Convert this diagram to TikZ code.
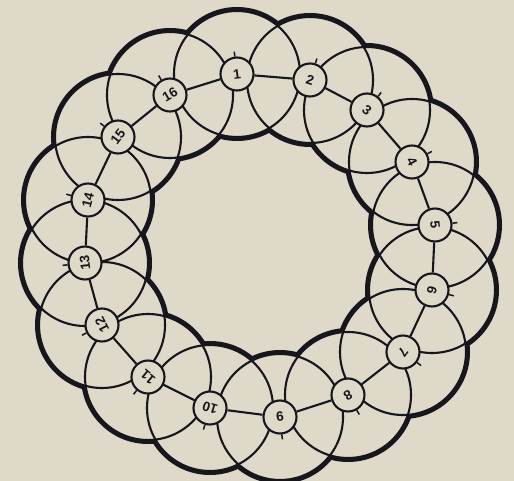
\documentclass[tikz,border=0pt]{standalone}
\usepackage{fontspec}
\setmainfont{Liberation Sans}
\definecolor{paper}{RGB}{222,217,201}
\definecolor{ink}{RGB}{22,22,28}
\begin{document}
\begin{tikzpicture}[x=1pt,y=-1pt,
  thinline/.style={line width=2.1pt, draw=ink},
  boldrim/.style={line width=8pt, draw=ink},
  ringnode/.style={circle, draw=ink, line width=2.1pt, fill=paper, minimum size=33pt, inner sep=0pt, text=ink, font=\fontsize{13.5}{13.5}\selectfont\bfseries},
  tickmark/.style={line width=1.5pt, draw=ink}]
\fill[paper] (0,0) rectangle (514,481);
\useasboundingbox (0,0) rectangle (514,481);
\foreach \i/\x/\y in {1/237/74, 2/310/80, 3/367/110, 4/412/162, 5/435/225, 6/432/290, 7/403/352, 8/348/395, 9/280/417, 10/210/408, 11/148/377, 12/102/325, 13/85/263, 14/88/200, 15/118/137, 16/170/95}
  {\coordinate (p\i) at (\x,\y);}
\foreach \i in {1,...,16} \draw[boldrim] (p\i) circle[radius=63pt];
\foreach \i in {1,...,16} \fill[paper] (p\i) circle[radius=63pt];
\foreach \i in {1,...,16} \draw[thinline] (p\i) circle[radius=63pt];
\foreach \i/\a in {1/97.4, 2/72.7, 3/51.1, 4/28.2, 5/6.2, 6/345.1, 7/323.1, 8/300.5, 9/276.9, 10/253.4, 11/230.2, 12/207.3, 13/186.2, 14/165.6, 15/142.8, 16/120.8}
{
  \pgfmathsetmacro\rot{\a-90}
  \node[ringnode] (n\i) at (p\i) {\rotatebox{\rot}{\i}};
  \draw[tickmark] (n\i.\a) -- ++(\a:5pt);
}
\foreach \i/\j in {1/2, 2/3, 3/4, 4/5, 5/6, 6/7, 7/8, 8/9, 9/10, 10/11, 11/12, 12/13, 13/14, 14/15, 15/16, 16/1}
  \draw[thinline] (n\i) -- (n\j);
\end{tikzpicture}
\end{document}
